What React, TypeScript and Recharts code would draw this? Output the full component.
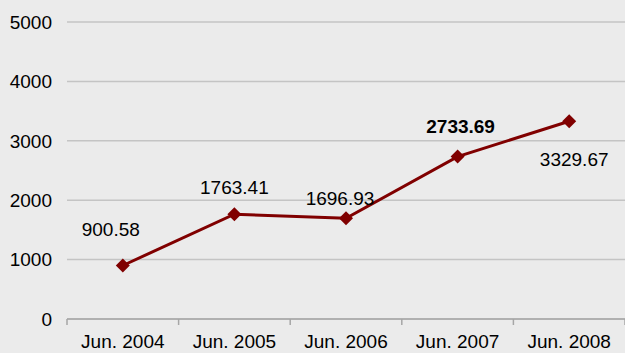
import React from 'react'
import { LineChart, Line, XAxis, YAxis, CartesianGrid, LabelList } from 'recharts'

const categories = ['Jun. 2004', 'Jun. 2005', 'Jun. 2006', 'Jun. 2007', 'Jun. 2008']
const values = [900.58, 1763.41, 1696.93, 2733.69, 3329.67]
const yTicks = [0, 1000, 2000, 3000, 4000, 5000]

// label placement relative to each point (styling only)
const labelOffsets = [
  { dx: -12, dy: -36 },
  { dx: 0, dy: -27 },
  { dx: -6, dy: -20 },
  { dx: 3, dy: -30 },
  { dx: 5, dy: 38 },
]
const boldLabel = 3

const data = categories.map((label, i) => ({ label, pos: i + 0.5, value: values[i] }))
const xTicks = [0, 0.5, 1, 1.5, 2, 2.5, 3, 3.5, 4, 4.5, 5]

const FONT = '"Liberation Sans", Arial, sans-serif'

const XTick = ({ x, y, payload }: any) => {
  const v = payload.value
  if (Number.isInteger(v)) {
    return <line x1={x} x2={x} y1={y} y2={y + 6} stroke="#a6a6a6" strokeWidth={1.5} />
  }
  return (
    <text x={x} y={y + 29} textAnchor="middle" fontSize={19} fill="#000" fontFamily={FONT}>
      {categories[Math.floor(v)]}
    </text>
  )
}

const Diamond = ({ cx, cy }: any) => {
  const r = 7
  return (
    <polygon
      points={`${cx},${cy - r} ${cx + r},${cy} ${cx},${cy + r} ${cx - r},${cy}`}
      fill="#800000"
    />
  )
}

const ValueLabel = ({ x, y, value, index }: any) => {
  const o = labelOffsets[index]
  return (
    <text
      x={x + o.dx}
      y={y + o.dy}
      textAnchor="middle"
      dominantBaseline="central"
      fontSize={19}
      fontWeight={index === boldLabel ? 'bold' : 'normal'}
      fill="#000"
      fontFamily={FONT}
    >
      {value.toFixed(2)}
    </text>
  )
}

export default function App() {
  return (
    <div
      style={{
        position: 'absolute',
        left: 0,
        top: 0,
        width: 625,
        height: 353,
        background: '#ebebeb',
        fontFamily: FONT,
      }}
    >
      <LineChart width={625} height={353} data={data} margin={{ top: 22, right: 0, bottom: 0, left: 0 }}>
        <CartesianGrid vertical={false} stroke="#c4c4c4" strokeWidth={1.5} />
        <XAxis
          type="number"
          dataKey="pos"
          domain={[0, 5]}
          ticks={xTicks}
          interval={0}
          height={34}
          tickSize={0}
          tickMargin={0}
          tickLine={false}
          axisLine={{ stroke: '#a6a6a6', strokeWidth: 1.5 }}
          tick={<XTick />}
        />
        <YAxis
          domain={[0, 5000]}
          ticks={yTicks}
          width={67}
          axisLine={false}
          tickLine={false}
          tickSize={0}
          tickMargin={15}
          tick={{ fontSize: 19, fill: '#000', fontFamily: FONT }}
        />
        <Line
          dataKey="value"
          stroke="#800000"
          strokeWidth={3}
          dot={<Diamond />}
          activeDot={false}
          isAnimationActive={false}
        >
          <LabelList dataKey="value" content={<ValueLabel />} />
        </Line>
      </LineChart>
    </div>
  )
}
